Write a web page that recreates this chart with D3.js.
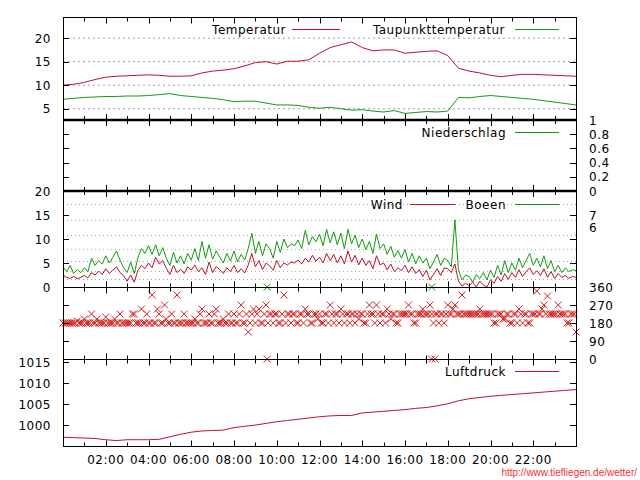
<!DOCTYPE html>
<html><head><meta charset="utf-8">
<script src="https://cdn.jsdelivr.net/npm/d3@7"></script>
<style>
body{margin:0;background:#fff;}
svg text{font-family:"DejaVu Sans",sans-serif;font-size:12px;letter-spacing:0.5px;fill:#000;}
</style></head>
<body><svg id="c" width="640" height="480"></svg>
<script>
// ---------- DATA ----------
const hourTicks = d3.range(0, 25, 1);
const hourLabels = ["02:00","04:00","06:00","08:00","10:00","12:00","14:00","16:00","18:00","20:00","22:00"];
const hourLabelValues = [2,4,6,8,10,12,14,16,18,20,22];

// half-hour samples, 00:00 .. 24:00
const temperature = [10.0,10.2,10.6,11.2,11.7,11.9,12.0,12.1,12.2,12.1,11.9,11.9,12.0,12.6,13.0,13.2,13.5,14.1,14.8,15.0,14.5,15.1,15.1,15.4,16.8,18.0,18.6,19.2,18.0,17.3,17.5,17.5,16.8,17.0,17.2,17.3,16.3,13.6,13.0,12.6,12.1,11.8,12.1,12.3,12.3,12.2,12.1,12.0,11.9];
const dewPoint = [7.0,7.2,7.4,7.5,7.6,7.6,7.7,7.7,7.8,8.0,8.2,7.8,7.6,7.4,7.2,6.9,6.5,6.6,6.6,6.2,5.8,5.8,5.7,5.3,5.1,5.3,5.0,4.7,4.8,4.5,4.3,4.6,4.0,4.2,4.4,4.3,4.5,7.4,7.3,7.6,7.8,7.6,7.4,7.2,7.0,6.7,6.4,6.1,5.8];
const pressure = [997.1,997.0,996.9,996.8,996.5,996.3,996.5,996.5,996.5,996.6,997.2,997.8,998.3,998.6,998.7,998.8,999.4,999.7,1000.0,1000.4,1000.8,1001.1,1001.4,1001.7,1002.0,1002.2,1002.3,1002.3,1002.9,1003.1,1003.3,1003.5,1003.7,1004.0,1004.2,1004.6,1005.1,1005.8,1006.3,1006.6,1006.9,1007.1,1007.3,1007.5,1007.7,1007.9,1008.1,1008.3,1008.5];

// 10-minute samples, 00:00 .. 24:00
const wind = [2.5,2.0,1.8,2.2,1.7,2.0, 2.4,1.9,3.0,2.5,3.3,2.6, 3.8,2.8,3.5,4.2,3.0,2.4, 1.2,2.5,1.0,3.4,4.5,3.8,
 5.0,4.0,6.2,4.8,5.5,3.9, 2.6,4.5,3.0,3.7,2.8,4.2, 3.5,4.6,3.2,4.0,2.6,5.2, 3.0,4.3,3.6,2.8,4.0,3.2,
 4.5,3.0,3.8,2.9,4.6,7.0, 4.2,5.5,3.6,5.0,4.4,3.5, 5.5,4.0,5.0,4.6,5.2,5.0, 5.6,4.8,6.0,5.2,6.6,5.4,
 6.2,5.0,7.0,5.5,6.8,5.0, 6.5,4.8,7.5,5.2,6.6,4.6, 6.0,4.5,5.5,3.8,6.5,4.6, 5.0,3.6,4.8,3.2,4.0,3.4,
 4.5,3.0,4.2,2.8,3.6,2.2, 3.5,1.5,2.6,3.8,2.4,4.0, 3.8,3.0,4.8,1.2,0.2,0.8, 0.3,1.0,0.0,1.2,0.4,0.0,
 1.5,0.8,2.2,1.2,2.8,1.6, 3.0,2.0,3.6,2.2,3.2,4.0, 2.6,3.4,2.4,3.8,2.0,3.2, 1.8,2.8,2.0,2.4,1.8,2.2,2.0];
const gusts = [4.2,3.2,4.5,2.8,3.6,3.0, 4.0,3.2,6.0,4.5,5.5,4.8, 6.5,5.0,6.2,7.5,5.6,4.0, 3.0,5.2,2.8,6.0,8.0,7.0,
 8.6,6.8,8.8,6.5,8.2,6.0, 4.5,7.2,5.0,6.5,4.8,7.0, 5.6,8.0,5.5,9.5,6.0,8.8, 5.8,7.5,6.2,5.0,7.0,5.4,
 7.5,5.2,6.8,5.6,8.0,11.2, 7.0,9.5,6.5,9.0,8.0,6.0, 9.5,7.2,10.0,8.2,9.0,8.6, 9.8,8.0,11.8,8.8,10.5,9.4,
 11.0,8.6,12.0,9.2,11.5,8.8, 11.2,8.0,12.0,9.0,10.8,8.2, 10.0,7.8,9.5,7.0,11.0,8.0, 9.0,6.8,8.5,6.2,7.6,6.0,
 7.8,5.2,7.0,4.8,6.5,5.0, 6.0,3.8,5.2,6.8,4.5,6.0, 5.5,4.2,14.0,3.5,1.5,2.5, 2.2,1.0,2.6,1.8,3.0,1.5,
 3.5,2.0,4.5,2.5,5.5,3.0, 5.0,3.5,6.0,4.0,5.5,7.0, 4.5,6.0,4.2,6.5,3.8,5.5, 3.2,4.5,3.0,4.0,3.2,3.6,3.4];
const windDirection = [180,180,180,180,190,180, 200,180,225,180,180,180, 210,180,180,180,225,180, 180,180,225,180,250,180,
 180,320,180,225,180,200, 180,180,320,180,225,180, 180,200,180,250,180,225, 180,250,180,200,180,180,
 225,180,270,180,135,225, 180,250,180,270,225,180, 225,180,320,225,180,225, 180,225,250,225,180,225,
 225,180,225,270,180,225, 250,180,225,225,180,200, 225,180,270,225,270,180, 225,250,200,225,180,225,
 225,270,225,180,225,250, 225,270,180,225,225,180, 270,225,270,225,320,225, 225,225,225,250,225,225,
 225,180,225,225,200,225, 180,225,250,180,225,180, 225,340,225,270,315,225, 225,270,225,225,180,225,135];
// intermediate readings (5 minutes after each 10-minute sample)
const windDirection2 = [180,180,180,180,180,180, 180,180,180,200,180,180, 180,180,200,180,180,180, 180,225,180,180,180,225,
 180,180,250,180,270,180, 225,180,180,180,180,180, 180,180,225,180,180,180, 225,180,180,180,225,180,
 180,225,180,225,180,250, 225,180,225,180,225,225, 180,225,180,225,225,180, 225,180,225,180,225,200,
 180,225,180,225,225,180, 225,225,180,225,225,225, 180,225,225,180,225,225, 180,225,225,180,225,225,
 225,225,180,225,225,225, 225,225,225,180,225,225, 225,250,225,225,225,225, 225,225,225,225,225,225,
 225,180,225,200,225,180, 225,180,225,225,180,225, 225,225,250,225,225,225, 225,225,225,180,225,225];
const calmHours = [9.55, 17.25, 17.4];       // direction 0 (red) / 360 (green)

const beaufortLimits = [1.6,3.4,5.5,8.0,10.8,13.9,17.2];
const beaufortLabelValues = [15.0, 12.3];
const beaufortLabels = ["7","6"];
const tempTicks = [5,10,15,20];
const windTicks = [0,5,10,15,20];
const rainTicks = [0,0.2,0.4,0.6,0.8,1];
const rainLabels = ["0","0.2","0.4","0.6","0.8","1"];
const dirTicks = [0,90,180,270,360];
const pressTicks = [1000,1005,1010,1015];

// ---------- LAYOUT ----------
const RED = "#c0102a", GREEN = "#119a11", MRED = "#d42020";
const L = 63, R = 576;
const svg = d3.select("#c");
const x = d3.scaleLinear().domain([0,24]).range([L,R]);
const halfHours = temperature.map((_, i) => i * 0.5);
const tenMin = wind.map((_, i) => i / 6);

const yT = d3.scaleLinear().domain([2.6,24.5]).range([120,17]);
const yRain = d3.scaleLinear().domain([0,1]).range([191,120]);
const yW = d3.scaleLinear().domain([0,20]).range([287,191]);
const yD = d3.scaleLinear().domain([0,360]).range([359,287]);
const yP = d3.scaleLinear().domain([995,1015.8]).range([446,359]);

// grid lines
const grid = svg.append("g");
tempTicks.forEach(v => grid.append("line").attr("x1",L).attr("x2",R).attr("y1",yT(v)).attr("y2",yT(v))
  .attr("stroke","#a0a0a0").attr("stroke-dasharray","2,3"));
beaufortLimits.forEach((v,i) => grid.append("line").attr("x1",L).attr("x2",R).attr("y1",Math.round(yW(v))+0.5).attr("y2",Math.round(yW(v))+0.5)
  .attr("stroke", i%2 ? "#b4b090" : "#a0a0a0").attr("stroke-dasharray","1,3"));

// series
const line = (ys, xs) => d3.line().x((d,i)=>x(xs[i])).y(d=>ys(d));
svg.append("path").datum(temperature).attr("d", line(yT, halfHours)).attr("fill","none").attr("stroke",RED);
svg.append("path").datum(dewPoint).attr("d", line(yT, halfHours)).attr("fill","none").attr("stroke",GREEN);
svg.append("path").datum(gusts).attr("d", line(yW, tenMin)).attr("fill","none").attr("stroke",GREEN);
svg.append("path").datum(wind).attr("d", line(yW, tenMin)).attr("fill","none").attr("stroke",RED);
svg.append("path").datum(pressure).attr("d", line(yP, halfHours)).attr("fill","none").attr("stroke",RED);

// direction markers
const cross = (cx, cy, s) => `M${cx-s},${cy-s}L${cx+s},${cy+s}M${cx-s},${cy+s}L${cx+s},${cy-s}`;
svg.append("g").selectAll("path").data(windDirection).join("path")
  .attr("d",(d,i)=>cross(x(tenMin[i]), yD(d), 3.5)).attr("stroke",MRED).attr("fill","none");
svg.append("g").selectAll("path").data(windDirection2).join("path")
  .attr("d",(d,i)=>cross(x(tenMin[i] + 1/12), yD(d), 3.5)).attr("stroke",MRED).attr("fill","none");
svg.append("g").selectAll("path").data(calmHours).join("path")
  .attr("d",d=>cross(x(d), yD(0), 3.5)).attr("stroke",MRED).attr("fill","none");
svg.append("g").selectAll("path").data(calmHours.slice(0,2)).join("path")
  .attr("d",d=>cross(x(d), yD(360), 3.5)).attr("stroke",GREEN).attr("fill","none");

// frame + separators
const ax = svg.append("g").attr("stroke","#000").attr("fill","none");
ax.append("line").attr("x1",L+0.5).attr("x2",L+0.5).attr("y1",17).attr("y2",446);
ax.append("line").attr("x1",R+0.5).attr("x2",R+0.5).attr("y1",17).attr("y2",446);
[[17.5,1],[120,2.5],[191,2.5],[287.5,1],[359.5,1],[446.5,1]].forEach(([y,w]) =>
  ax.append("line").attr("x1",L).attr("x2",R+1).attr("y1",y).attr("y2",y).attr("stroke-width",w));

// x ticks on each border
const borders = [[17.5,1],[120,0],[191,0],[287.5,0],[359.5,0],[446.5,-1]];
borders.forEach(([y,dir]) => {
  hourTicks.forEach(h => {
    const len = h % 2 === 0 ? 6 : 4;
    const xx = Math.round(x(h)) + 0.5;
    if (dir >= 0) ax.append("line").attr("x1",xx).attr("x2",xx).attr("y1",y).attr("y2",y+len);
    if (dir <= 0) ax.append("line").attr("x1",xx).attr("x2",xx).attr("y1",y).attr("y2",y-len);
  });
});

// y ticks (both sides)
const yTick = (scale, vals) => vals.forEach(v => {
  const yy = Math.round(scale(v)) + 0.5;
  ax.append("line").attr("x1",L).attr("x2",L+6).attr("y1",yy).attr("y2",yy);
  ax.append("line").attr("x1",R-6).attr("x2",R).attr("y1",yy).attr("y2",yy);
});
yTick(yT, tempTicks);
yTick(yRain, rainTicks.slice(1,5));
yTick(yW, windTicks.slice(1,4));
yTick(yD, [90,180,270]);
yTick(yP, pressTicks);

// labels
const txt = svg.append("g");
const lab = (t, xx, yy, anchor) => txt.append("text").attr("x",xx).attr("y",yy+4.5).attr("text-anchor",anchor).text(t);
tempTicks.forEach(v => lab(v, 51, yT(v), "end"));
windTicks.forEach(v => lab(v, 51, yW(v), "end"));
pressTicks.forEach(v => lab(v, 51, yP(v), "end"));
rainTicks.forEach((v,i) => lab(rainLabels[i], 589, yRain(v), "start"));
beaufortLabelValues.forEach((v,i) => lab(beaufortLabels[i], 589, yW(v), "start"));
dirTicks.forEach(v => lab(v, 589, yD(v), "start"));
hourLabelValues.forEach((h,i) => lab(hourLabels[i], x(h), 459, "middle"));

// legends
const legend = (t, tx, lx1, lx2, yy, col) => {
  lab(t, tx, yy, "end");
  svg.append("line").attr("x1",lx1).attr("x2",lx2).attr("y1",yy+0.5).attr("y2",yy+0.5).style("stroke",col);
};
legend("Temperatur", 286, 292, 340, 29, RED);
legend("Taupunkttemperatur", 505, 515, 559, 29, GREEN);
legend("Niederschlag", 506, 515, 559, 132, GREEN);
legend("Wind", 403, 410, 455, 204, RED);
legend("Boeen", 506, 515, 559, 204, GREEN);
legend("Luftdruck", 506, 515, 559, 371, RED);

svg.append("text").attr("x",637).attr("y",476).attr("text-anchor","end")
  .style("font-family","'Liberation Sans',Arial,sans-serif").style("font-size","10px").style("letter-spacing","0px")
  .style("fill","#ee3333").text("http://www.tiefliegen.de/wetter/");
</script></body></html>
